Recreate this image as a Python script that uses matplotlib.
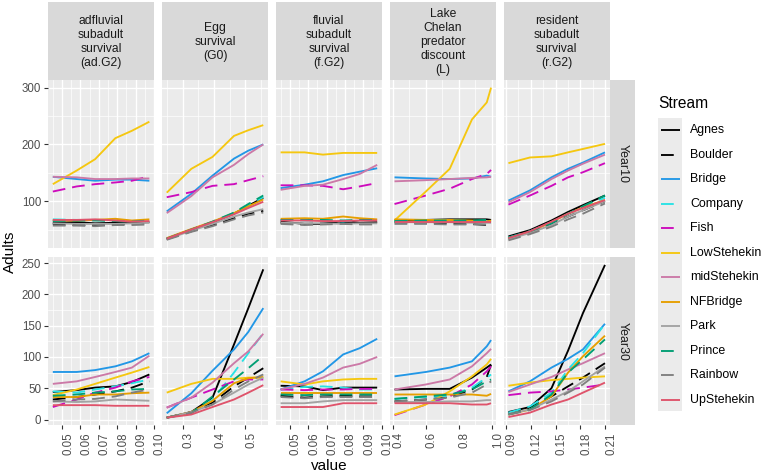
import matplotlib
matplotlib.use("Agg")
import matplotlib.pyplot as plt
from matplotlib.lines import Line2D
from matplotlib.patches import Rectangle

plt.rcParams['font.family'] = ['Liberation Sans', 'DejaVu Sans']

# ---------------- data ----------------
streams = ["Agnes", "Boulder", "Bridge", "Company", "Fish", "LowStehekin",
           "midStehekin", "NFBridge", "Park", "Prince", "Rainbow", "UpStehekin"]
stream_colors = ["#000000", "#000000", "#2297E6", "#28E2E5", "#CD0BBC", "#F5C710",
                 "#CC79A7", "#E69F00", "#A3A3A3", "#009E73", "#7F7F7F", "#DF536B"]
stream_dashed = [False, True, False, True, True, False,
                 False, False, False, True, True, False]

param_labels = ["adfluvial\nsubadult\nsurvival\n(ad.G2)",
                "Egg\nsurvival\n(G0)",
                "fluvial\nsubadult\nsurvival\n(f.G2)",
                "Lake\nChelan\npredator\ndiscount\n(L)",
                "resident\nsubadult\nsurvival\n(r.G2)"]
year_labels = ["Year10", "Year30"]

x_adG2 = [0.045, 0.058, 0.068, 0.079, 0.088, 0.0975]
x_G0 = [0.248, 0.327, 0.395, 0.464, 0.510, 0.558]
x_fG2 = [0.045, 0.058, 0.068, 0.079, 0.088, 0.0975]
x_L = [0.41, 0.60, 0.745, 0.88, 0.97, 0.996]
x_rG2 = [0.093, 0.119, 0.145, 0.165, 0.183, 0.2096]

xticks_adG2 = [0.05, 0.06, 0.07, 0.08, 0.09, 0.10]
xticklabels_adG2 = ["0.05", "0.06", "0.07", "0.08", "0.09", "0.10"]
xticks_G0 = [0.3, 0.4, 0.5]
xticklabels_G0 = ["0.3", "0.4", "0.5"]
xticks_fG2 = [0.05, 0.06, 0.07, 0.08, 0.09, 0.10]
xticklabels_fG2 = ["0.05", "0.06", "0.07", "0.08", "0.09", "0.10"]
xticks_L = [0.4, 0.6, 0.8, 1.0]
xticklabels_L = ["0.4", "0.6", "0.8", "1.0"]
xticks_rG2 = [0.09, 0.12, 0.15, 0.18, 0.21]
xticklabels_rG2 = ["0.09", "0.12", "0.15", "0.18", "0.21"]

yticks_year10 = [100, 200, 300]
yticks_year30 = [0, 50, 100, 150, 200, 250]

# rows follow the order of `streams`
y10_adG2 = [
    [62, 63, 61, 62, 63, 63],
    [60, 58, 58, 59, 61, 61],
    [143, 139, 136, 138, 138, 136],
    [68, 67, 67, 66, 65, 66],
    [117, 126, 130, 133, 136, 144],
    [130, 154, 174, 211, 224, 240],
    [143, 142, 139, 139, 140, 140],
    [66, 66, 67, 69, 66, 68],
    [61, 60, 60, 60, 61, 62],
    [65, 66, 66, 65, 64, 66],
    [57, 57, 56, 58, 58, 59],
    [67, 67, 68, 66, 64, 65],
]
y10_G0 = [
    [34, 50, 63, 78, 92, 106],
    [33, 47, 58, 70, 78, 83],
    [82, 113, 145, 175, 189, 200],
    [34, 50, 63, 79, 93, 107],
    [107, 116, 127, 130, 137, 144],
    [115, 157, 178, 215, 225, 234],
    [79, 109, 142, 164, 183, 200],
    [35, 51, 64, 79, 91, 103],
    [33, 48, 60, 73, 80, 86],
    [34, 50, 64, 80, 95, 110],
    [32, 46, 56, 68, 75, 80],
    [34, 50, 63, 77, 88, 99],
]
y10_fG2 = [
    [64, 60, 60, 65, 62, 63],
    [62, 60, 61, 62, 60, 61],
    [123, 129, 135, 146, 152, 158],
    [67, 66, 66, 64, 67, 67],
    [128, 128, 127, 121, 126, 132],
    [186, 186, 182, 185, 185, 185],
    [120, 127, 129, 139, 148, 164],
    [69, 70, 69, 73, 70, 68],
    [62, 61, 61, 60, 61, 61],
    [67, 67, 67, 66, 67, 67],
    [60, 58, 59, 60, 59, 59],
    [66, 66, 65, 65, 66, 66],
]
y10_L = [
    [67, 67, 68, 68, 68, 67],
    [63, 62, 61, 60, 58, 62],
    [142, 140, 139, 140, 145, 143],
    [65, 65, 65, 65, 66, 66],
    [95, 110, 122, 139, 148, 155],
    [66, 117, 157, 244, 274, 300],
    [135, 137, 139, 141, 142, 143],
    [68, 67, 67, 66, 64, 66],
    [63, 63, 63, 62, 62, 62],
    [65, 66, 66, 66, 67, 66],
    [60, 60, 59, 59, 59, 60],
    [64, 64, 64, 64, 64, 64],
]
y10_rG2 = [
    [38, 49, 66, 81, 93, 110],
    [34, 45, 60, 73, 84, 100],
    [101, 119, 142, 157, 168, 186],
    [36, 47, 63, 78, 90, 106],
    [94, 110, 127, 142, 151, 167],
    [167, 177, 179, 186, 192, 201],
    [98, 116, 139, 154, 166, 182],
    [35, 46, 63, 78, 89, 102],
    [33, 44, 58, 73, 84, 100],
    [36, 47, 61, 78, 91, 110],
    [31, 42, 55, 68, 78, 96],
    [35, 47, 64, 78, 88, 102],
]
y30_adG2 = [
    [44, 47, 51, 53, 60, 72],
    [32, 36, 40, 45, 51, 61],
    [76, 76, 79, 85, 93, 106],
    [45, 43, 48, 53, 58, 64],
    [20, 32, 43, 51, 61, 68],
    [39, 48, 57, 67, 75, 84],
    [57, 61, 68, 76, 83, 102],
    [36, 36, 40, 40, 42, 43],
    [29, 28, 29, 32, 31, 30],
    [38, 40, 43, 45, 48, 49],
    [29, 32, 33, 37, 43, 48],
    [23, 23, 23, 22, 22, 22],
]
y30_G0 = [
    [3, 12, 35, 120, 178, 240],
    [3, 12, 27, 53, 67, 82],
    [10, 42, 78, 112, 140, 178],
    [3, 10, 32, 75, 106, 138],
    [19, 35, 48, 61, 64, 64],
    [43, 57, 65, 65, 67, 67],
    [19, 35, 59, 90, 109, 137],
    [3, 12, 30, 58, 66, 68],
    [3, 12, 24, 43, 56, 67],
    [3, 10, 37, 64, 82, 102],
    [3, 11, 24, 48, 61, 72],
    [3, 8, 20, 32, 43, 55],
]
y30_fG2 = [
    [54, 53, 47, 51, 51, 51],
    [38, 35, 37, 38, 37, 37],
    [48, 61, 77, 104, 114, 129],
    [48, 52, 53, 51, 48, 48],
    [48, 47, 48, 48, 49, 49],
    [61, 56, 61, 64, 65, 65],
    [48, 57, 67, 83, 89, 100],
    [42, 42, 42, 42, 42, 42],
    [26, 26, 29, 31, 31, 31],
    [40, 39, 40, 40, 40, 40],
    [36, 34, 36, 36, 36, 36],
    [20, 20, 20, 26, 26, 26],
]
y30_L = [
    [48, 49, 49, 67, 83, 88],
    [29, 32, 36, 48, 68, 88],
    [69, 76, 83, 93, 117, 127],
    [33, 36, 38, 51, 67, 72],
    [7, 24, 37, 56, 77, 85],
    [8, 24, 45, 69, 88, 97],
    [48, 56, 64, 85, 106, 113],
    [40, 40, 40, 40, 38, 41],
    [28, 28, 29, 29, 31, 31],
    [33, 37, 40, 48, 61, 64],
    [29, 32, 35, 43, 56, 61],
    [26, 26, 26, 24, 24, 26],
]
y30_rG2 = [
    [12, 20, 50, 110, 170, 247],
    [10, 19, 37, 53, 67, 90],
    [45, 61, 83, 97, 112, 153],
    [11, 21, 43, 80, 106, 153],
    [39, 43, 45, 48, 51, 56],
    [54, 59, 63, 65, 67, 69],
    [44, 56, 68, 80, 90, 106],
    [8, 16, 37, 75, 101, 134],
    [9, 16, 32, 45, 61, 85],
    [8, 16, 40, 75, 96, 128],
    [8, 15, 29, 43, 56, 83],
    [4, 11, 24, 32, 43, 59],
]

# ---------------- layout ----------------
W, H = 763, 475
fig = plt.figure(figsize=(W / 100, H / 100), dpi=100)


def add_px_axes(l, t, w, h):
    return fig.add_axes([l / W, 1 - (t + h) / H, w / W, h / H])


panel_l = [48, 161.9, 275.8, 389.7, 503.6]
panel_w = 106.2
row_t = [80, 257.3]
row_h = 168

x_sets = [x_adG2, x_G0, x_fG2, x_L, x_rG2]
xtick_sets = [xticks_adG2, xticks_G0, xticks_fG2, xticks_L, xticks_rG2]
xticklabel_sets = [xticklabels_adG2, xticklabels_G0, xticklabels_fG2,
                   xticklabels_L, xticklabels_rG2]
y_sets = [[y10_adG2, y10_G0, y10_fG2, y10_L, y10_rG2],
          [y30_adG2, y30_G0, y30_fG2, y30_L, y30_rG2]]
ytick_sets = [yticks_year10, yticks_year30]

LW = 1.35
DASH = (6.8, 3.7)


def minor_of(ticks):
    step = ticks[1] - ticks[0]
    return [ticks[0] - step / 2] + [t + step / 2 for t in ticks]


for r in range(2):
    allv = [v for panel in y_sets[r] for s in panel for v in s]
    lo, hi = min(allv), max(allv)
    pad = 0.05 * (hi - lo)
    for c in range(5):
        ax = add_px_axes(panel_l[c], row_t[r], panel_w, row_h)
        ax.set_facecolor('#EBEBEB')
        xs = x_sets[c]
        xlo, xhi = min(xs), max(xs)
        xp = 0.05 * (xhi - xlo)
        for i, name in enumerate(streams):
            ln, = ax.plot(xs, y_sets[r][c][i], color=stream_colors[i], lw=LW,
                          solid_capstyle='butt', dash_capstyle='butt')
            if stream_dashed[i]:
                ln.set_dashes(DASH)
        ax.set_xticks(xtick_sets[c])
        ax.set_xticks(minor_of(xtick_sets[c]), minor=True)
        ax.set_yticks(ytick_sets[r])
        ax.set_yticks(minor_of(ytick_sets[r]), minor=True)
        ax.set_xlim(xlo - xp, xhi + xp)
        ax.set_ylim(lo - pad, hi + pad)
        ax.set_axisbelow(True)
        ax.grid(which='major', color='white', lw=1.0)
        ax.grid(which='minor', color='white', lw=0.5)
        for sp in ax.spines.values():
            sp.set_visible(False)
        ax.tick_params(which='minor', length=0)
        ax.tick_params(which='major', length=2.75, width=0.8, color='#333333',
                       labelcolor='#4D4D4D', labelsize=8.3, pad=2.2)
        if c == 0:
            ax.set_yticklabels([str(t) for t in ytick_sets[r]])
        else:
            ax.tick_params(axis='y', left=False, labelleft=False)
        if r == 1:
            ax.set_xticklabels(xticklabel_sets[c])
            for lab in ax.get_xticklabels():
                lab.set_rotation(90)
                lab.set_ha('left')
                lab.set_va('top')
        else:
            ax.tick_params(axis='x', bottom=False, labelbottom=False)

# overlay for strips, titles and legend
ov = fig.add_axes([0, 0, 1, 1])
ov.set_xlim(0, W)
ov.set_ylim(H, 0)
ov.axis('off')

for c in range(5):
    ov.add_patch(Rectangle((panel_l[c], 2), panel_w, 78, facecolor='#D9D9D9',
                           edgecolor='none'))
    ov.text(panel_l[c] + panel_w / 2, 42, param_labels[c], ha='center', va='center',
            multialignment='center', fontsize=8.7, color='#1A1A1A', linespacing=1.22)
for r in range(2):
    ov.add_patch(Rectangle((609.8, row_t[r]), 25, row_h, facecolor='#D9D9D9',
                           edgecolor='none'))
    ov.text(622.5, row_t[r] + row_h / 2, year_labels[r], ha='center', va='center',
            rotation=-90, fontsize=8.9, color='#1A1A1A')

ov.text(9.5, 252, "Adults", rotation=90, ha='center', va='center', fontsize=11, color='black')
ov.text(329, 466, "value", ha='center', va='center', fontsize=11, color='black')

# legend
ov.text(658, 103, "Stream", ha='left', va='center', fontsize=11.2, color='black')
ov.add_patch(Rectangle((658, 117.5), 24, 293.5, facecolor='#EBEBEB', edgecolor='none'))
for i, name in enumerate(streams):
    yy = 130 + i * 24.5
    ln = Line2D([660.5, 679.5], [yy, yy], color=stream_colors[i], lw=LW,
                solid_capstyle='butt', dash_capstyle='butt')
    if stream_dashed[i]:
        ln.set_dashes(DASH)
    ov.add_line(ln)
    ov.text(690, yy, name, ha='left', va='center', fontsize=8.9, color='black')

fig.savefig("out.png", dpi=100)
